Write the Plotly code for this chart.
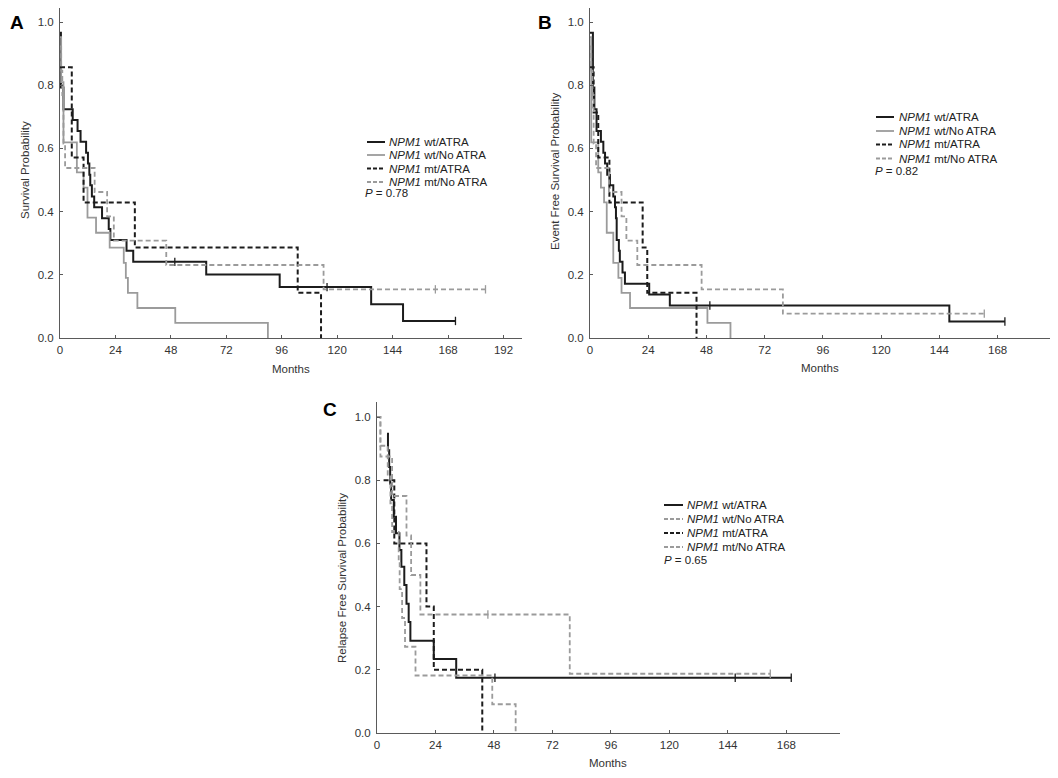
import numpy as np
import plotly.graph_objects as go

# ---------------- data ----------------
# Panel A: overall survival
A_wt_atra_t = [0, 0.4, 1.5, 5.5, 7.6, 8.9, 11.3, 12.1, 12.7, 13.1, 13.8, 14.8, 18.2, 21.1, 21.8, 28.8, 31.7, 63.3, 95.1, 134.7, 148.5, 171.2]
A_wt_atra_s = [0.966, 0.793, 0.724, 0.690, 0.655, 0.621, 0.586, 0.552, 0.517, 0.483, 0.448, 0.414, 0.379, 0.345, 0.310, 0.276, 0.241, 0.201, 0.161, 0.107, 0.054, 0.054]
A_wt_atra_c = [49.7, 115.6, 171.2]
A_wt_no_t = [0, 0.5, 1.5, 7.3, 10.2, 11.9, 15.6, 21.5, 27.6, 28.5, 29.4, 33.5, 49.9, 90.0]
A_wt_no_s = [0.952, 0.810, 0.619, 0.524, 0.476, 0.381, 0.333, 0.286, 0.238, 0.190, 0.143, 0.095, 0.048, 0.0]
A_wt_no_c = []
A_mt_atra_t = [0, 5.1, 10.2, 32.4, 102.9, 113.0]
A_mt_atra_s = [0.857, 0.571, 0.429, 0.286, 0.143, 0.0]
A_mt_atra_c = []
A_mt_no_t = [0, 0.5, 1.0, 1.5, 2.2, 15.0, 20.4, 23.3, 46.0, 114.1, 184.2]
A_mt_no_s = [0.923, 0.846, 0.769, 0.615, 0.538, 0.462, 0.385, 0.308, 0.231, 0.154, 0.154]
A_mt_no_c = [162.5, 184.2]

# Panel B: event free survival
B_wt_atra_t = [0, 1.2, 1.8, 2.7, 4.5, 5.5, 6.2, 7.1, 8.2, 9.6, 10.3, 10.7, 11.0, 11.9, 12.3, 13.4, 14.4, 24.4, 32.9, 148.1, 171.0]
B_wt_atra_s = [0.966, 0.793, 0.724, 0.655, 0.621, 0.586, 0.552, 0.517, 0.483, 0.448, 0.414, 0.379, 0.310, 0.276, 0.241, 0.207, 0.172, 0.138, 0.103, 0.052, 0.052]
B_wt_atra_c = [49.4, 171.0]
B_wt_no_t = [0, 0.5, 3.4, 4.5, 5.8, 6.9, 9.6, 11.7, 13.0, 16.5, 48.4, 57.9]
B_wt_no_s = [0.952, 0.619, 0.524, 0.476, 0.429, 0.333, 0.238, 0.190, 0.143, 0.095, 0.048, 0.0]
B_wt_no_c = []
B_mt_atra_t = [0, 1.5, 3.4, 8.0, 21.7, 23.6, 43.9]
B_mt_atra_s = [0.857, 0.714, 0.571, 0.429, 0.286, 0.143, 0.0]
B_mt_atra_c = []
B_mt_no_t = [0, 0.5, 1.0, 1.5, 2.5, 7.8, 13.0, 15.0, 19.5, 46.0, 79.5, 162.5]
B_mt_no_s = [0.923, 0.846, 0.769, 0.615, 0.538, 0.462, 0.385, 0.308, 0.231, 0.154, 0.077, 0.077]
B_mt_no_c = [162.5]

# Panel C: relapse free survival
C_wt_atra_t = [4.1, 4.5, 5.0, 5.4, 5.8, 6.9, 7.8, 9.2, 10.0, 11.2, 12.1, 13.0, 13.7, 23.3, 32.5, 170.0]
C_wt_atra_s = [0.947, 0.895, 0.842, 0.789, 0.737, 0.684, 0.632, 0.579, 0.526, 0.468, 0.409, 0.351, 0.292, 0.234, 0.175, 0.175]
C_wt_atra_c = [48.4, 147.0, 170.0]
C_wt_no_t = [0, 1.4, 4.4, 5.5, 6.2, 8.9, 9.3, 10.3, 11.5, 15.8, 47.3, 56.9]
C_wt_no_s = [1.0, 0.909, 0.818, 0.727, 0.636, 0.545, 0.455, 0.364, 0.273, 0.182, 0.091, 0.0]
C_wt_no_c = []
C_mt_atra_t = [2.7, 7.1, 20.3, 23.3, 43.2]
C_mt_atra_s = [0.8, 0.6, 0.4, 0.2, 0.0]
C_mt_atra_c = []
C_mt_no_t = [0, 1.4, 6.2, 12.1, 14.0, 17.8, 79.1, 161.4]
C_mt_no_s = [1.0, 0.875, 0.75, 0.625, 0.5, 0.375, 0.1875, 0.1875]
C_mt_no_c = [45.5, 161.4]

series_names = ["<i>NPM1</i> wt/ATRA", "<i>NPM1</i> wt/No ATRA",
                "<i>NPM1</i> mt/ATRA", "<i>NPM1</i> mt/No ATRA"]
p_values = ["0.78", "0.82", "0.65"]
panel_letters = ["A", "B", "C"]
y_titles = ["Survival Probability", "Event Free Survival Probability",
            "Relapse Free Survival Probability"]
x_ticks = [[0, 24, 48, 72, 96, 120, 144, 168, 192],
           [0, 24, 48, 72, 96, 120, 144, 168],
           [0, 24, 48, 72, 96, 120, 144, 168]]
y_ticks = [0.0, 0.2, 0.4, 0.6, 0.8, 1.0]

# ---------------- styling ----------------
# the page body has an 8px default margin, so the figure is 8px smaller
# and all page-pixel positions are shifted by that offset
OFF = 8
W, H = 1058 - OFF, 778 - OFF
BLACK = "#1c1c1c"
GREY = "#9b9b9b"
AXC = "#5a5a5a"
FONT = "Liberation Sans, Arial, sans-serif"

styles_ab = [
    dict(color=BLACK, width=2.0, dash="solid"),
    dict(color=GREY, width=1.8, dash="solid"),
    dict(color=BLACK, width=2.0, dash="5px,3px"),
    dict(color=GREY, width=1.8, dash="5px,3px"),
]
styles_c = [
    dict(color=BLACK, width=2.0, dash="solid"),
    dict(color=GREY, width=1.8, dash="5px,3px"),
    dict(color=BLACK, width=2.0, dash="5px,3px"),
    dict(color=GREY, width=1.8, dash="5px,3px"),
]

panels = [
    dict(series=[(A_wt_atra_t, A_wt_atra_s, A_wt_atra_c), (A_wt_no_t, A_wt_no_s, A_wt_no_c),
                 (A_mt_atra_t, A_mt_atra_s, A_mt_atra_c), (A_mt_no_t, A_mt_no_s, A_mt_no_c)],
         styles=styles_ab,
         px_x=(60, 522), px_y=(338, 8), xrange=[0, 200],
         legend_px=dict(line=(367, 385), text=387, p=363, rows=[142, 155, 168.5, 182], prow=193),
         ytitle_px=(25, 170), xtitle_px=(291, 369), letter_px=(8, 22)),
    dict(series=[(B_wt_atra_t, B_wt_atra_s, B_wt_atra_c), (B_wt_no_t, B_wt_no_s, B_wt_no_c),
                 (B_mt_atra_t, B_mt_atra_s, B_mt_atra_c), (B_mt_no_t, B_mt_no_s, B_mt_no_c)],
         styles=styles_ab,
         px_x=(590, 1051), px_y=(338, 8), xrange=[0, 190],
         legend_px=dict(line=(876, 894), text=897, p=873, rows=[117, 131, 144.5, 158.5], prow=171),
         ytitle_px=(555, 172), xtitle_px=(820, 368), letter_px=(536, 22)),
    dict(series=[(C_wt_atra_t, C_wt_atra_s, C_wt_atra_c), (C_wt_no_t, C_wt_no_s, C_wt_no_c),
                 (C_mt_atra_t, C_mt_atra_s, C_mt_atra_c), (C_mt_no_t, C_mt_no_s, C_mt_no_c)],
         styles=styles_c,
         px_x=(377, 840), px_y=(733, 402), xrange=[0, 190],
         legend_px=dict(line=(664, 683), text=685, p=662, rows=[505, 519, 533, 547], prow=560),
         ytitle_px=(342, 578), xtitle_px=(608, 763), letter_px=(321, 410)),
]

def px2x(px):
    return min(max((px - OFF) / W, 0.0), 1.0)

def px2y(py):
    return min(max(1 - (py - OFF) / H, 0.0), 1.0)

fig = go.Figure()
shapes = []
annotations = []

for i, pan in enumerate(panels):
    k = "" if i == 0 else str(i + 1)
    xa, ya = "x" + k, "y" + k
    for (t, s, c), st in zip(pan["series"], pan["styles"]):
        fig.add_trace(go.Scatter(x=t, y=s, mode="lines", line_shape="hv",
                                 line=dict(color=st["color"], width=st["width"], dash=st["dash"]),
                                 xaxis=xa, yaxis=ya, showlegend=False, hoverinfo="skip"))
        if c:
            tt = np.asarray(t)
            ss = np.asarray(s)
            cy = [ss[max(np.searchsorted(tt, v, side="right") - 1, 0)] for v in c]
            fig.add_trace(go.Scatter(x=c, y=cy, mode="markers",
                                     marker=dict(symbol="line-ns", size=6,
                                                 line=dict(color=st["color"], width=1.3)),
                                     xaxis=xa, yaxis=ya, showlegend=False, hoverinfo="skip",
                                     cliponaxis=False))
    x0, x1 = pan["px_x"]
    yb, yt = pan["px_y"]
    ymax = (yb - yt) / 316.0
    axis_common = dict(showline=True, linecolor=AXC, linewidth=1, ticks="inside", ticklen=3,
                       tickcolor=AXC, showgrid=False, zeroline=False, automargin=False,
                       tickfont=dict(family=FONT, size=11.5, color="#333333"))
    fig.update_layout(**{
        ("xaxis" + k): dict(domain=[px2x(x0), px2x(x1)], range=pan["xrange"], anchor=ya,
                            tickvals=x_ticks[i], ticklabelstandoff=1, **axis_common),
        ("yaxis" + k): dict(domain=[px2y(yb), px2y(yt)], range=[0, ymax], anchor=xa,
                            tickvals=y_ticks, tickformat=".1f", ticklabelstandoff=3, **axis_common),
    })
    # axis titles
    annotations.append(dict(text="Months", x=px2x(pan["xtitle_px"][0]), y=px2y(pan["xtitle_px"][1]),
                            xref="paper", yref="paper", showarrow=False, xanchor="center", yanchor="middle",
                            font=dict(family=FONT, size=11.5, color="#333333")))
    annotations.append(dict(text=y_titles[i], x=px2x(pan["ytitle_px"][0]), y=px2y(pan["ytitle_px"][1]),
                            xref="paper", yref="paper", showarrow=False, textangle=-90,
                            xanchor="center", yanchor="middle",
                            font=dict(family=FONT, size=11.5, color="#333333")))
    # panel letter
    annotations.append(dict(text="<b>" + panel_letters[i] + "</b>", x=px2x(pan["letter_px"][0]),
                            y=px2y(pan["letter_px"][1]), xref="paper", yref="paper", showarrow=False,
                            xanchor="left", yanchor="middle",
                            font=dict(family=FONT, size=19, color="#000000")))
    # legend
    lg = pan["legend_px"]
    for name, st, row in zip(series_names, pan["styles"], lg["rows"]):
        shapes.append(dict(type="line", xref="paper", yref="paper",
                           x0=px2x(lg["line"][0]), x1=px2x(lg["line"][1]), y0=px2y(row), y1=px2y(row),
                           line=dict(color=st["color"], width=st["width"],
                                     dash="solid" if st["dash"] == "solid" else "4px,2px")))
        annotations.append(dict(text=name, x=px2x(lg["text"]), y=px2y(row), xref="paper", yref="paper",
                                showarrow=False, xanchor="left", yanchor="middle",
                                font=dict(family=FONT, size=11.5, color="#222222")))
    annotations.append(dict(text="<i>P</i> = " + p_values[i], x=px2x(lg["p"]), y=px2y(lg["prow"]),
                            xref="paper", yref="paper", showarrow=False, xanchor="left", yanchor="middle",
                            font=dict(family=FONT, size=11.5, color="#222222")))

fig.update_layout(width=W, height=H, margin=dict(l=0, r=0, t=0, b=0),
                  paper_bgcolor="white", plot_bgcolor="white",
                  shapes=shapes, annotations=annotations, showlegend=False)

fig.write_html("out.html")
